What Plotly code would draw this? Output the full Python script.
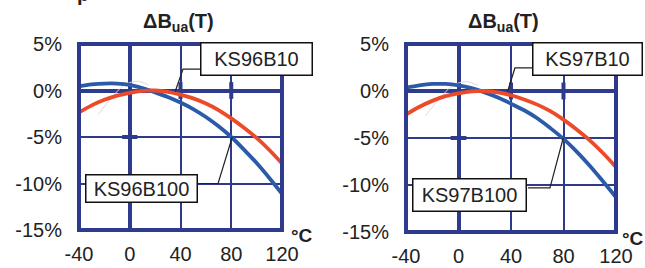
import plotly.graph_objects as go

# ---------------- data ----------------
temps = [-40, -30, -20, -10, 0, 10, 20, 30, 40, 50, 60, 70, 80, 90, 100, 110, 120]

ks96b100 = [0.45, 0.65, 0.75, 0.75, 0.6, 0.25, -0.2, -0.7, -1.3, -2.0, -2.85, -3.85, -5.0, -6.35, -7.8, -9.4, -11.1]
ks96b10 = [-2.35, -1.6, -1.0, -0.55, -0.25, -0.05, 0.0, -0.15, -0.45, -0.85, -1.4, -2.1, -3.0, -4.0, -5.1, -6.4, -7.85]

ks97b100 = [0.35, 0.6, 0.75, 0.75, 0.6, 0.3, -0.15, -0.7, -1.35, -2.05, -2.9, -3.95, -5.1, -6.45, -7.95, -9.6, -11.3]
ks97b10 = [-2.5, -1.7, -1.05, -0.55, -0.25, -0.05, 0.0, -0.15, -0.45, -0.9, -1.45, -2.15, -3.05, -4.1, -5.25, -6.6, -8.1]

# faint scan "ghost" traces visible behind the curves
ghost_t = [-25, -15, -5, 5, 15]
ghost_v = [-2.6, -0.9, 0.5, 1.0, 0.6]

x_ticks = [-40, 0, 40, 80, 120]
x_ticktext = ["-40", "0", "40", "80", "120"]
y_ticks = [5, 0, -5, -10, -15]
y_ticktext = ["5%", "0%", "-5%", "-10%", "-15%"]

title_text = "<b>ΔB<sub>ua</sub>(T)</b>"
unit_text = "<b>°C</b>"
labels_left = ["KS96B10", "KS96B100"]
labels_right = ["KS97B10", "KS97B100"]

# leader lines (x in °C, y in %)
lead_left_b10 = ([55.4, 42.0, 35.8], [2.3, 2.3, -0.1])
lead_left_b100 = ([53.0, 69.6, 80.8], [-10.0, -10.0, -5.0])
lead_right_b10 = ([56.0, 43.0, 37.5], [2.45, 2.45, 0.0])
lead_right_b100 = ([53.0, 69.7, 79.8], [-10.3, -10.3, -5.0])

# ---------------- style ----------------
W, H = 645, 268
NAVY = "#2e3a8c"
BLUE = "#2a5aa8"
RED = "#ec4b2a"
TXT = "#222222"
FONT = "Liberation Sans, Arial, sans-serif"

fig = go.Figure()

def px_x(p):
    return p / W

def px_y(p):
    return 1 - p / H

panels = [
    dict(xa="x", ya="y", xd=[79, 282], yd=[44, 230], blue=ks96b100, red=ks96b10,
         lb10=lead_left_b10, lb100=lead_left_b100, labels=labels_left,
         box10=(256, 58.5, 110, 31), box100=(141, 188.5, 110, 26),
         title_x=178, unit=(302, 235)),
    dict(xa="x2", ya="y2", xd=[406, 616], yd=[44, 232], blue=ks97b100, red=ks97b10,
         lb10=lead_right_b10, lb100=lead_right_b100, labels=labels_right,
         box10=(587, 58.5, 108, 31), box100=(469, 194.5, 112, 31),
         title_x=503, unit=(633, 238)),
]

for i, p in enumerate(panels):
    xa, ya = p["xa"], p["ya"]
    fig.add_trace(go.Scatter(x=ghost_t, y=ghost_v, mode="lines", xaxis=xa, yaxis=ya,
                             line=dict(color="#dadada", width=1, shape="spline"), showlegend=False,
                             hoverinfo="skip"))
    # curves
    fig.add_trace(go.Scatter(x=temps, y=p["blue"], mode="lines", xaxis=xa, yaxis=ya,
                             line=dict(color=BLUE, width=3.8, shape="spline"), showlegend=False,
                             hoverinfo="skip"))
    fig.add_trace(go.Scatter(x=temps, y=p["red"], mode="lines", xaxis=xa, yaxis=ya,
                             line=dict(color=RED, width=3.8, shape="spline"), showlegend=False,
                             hoverinfo="skip"))
    # leader lines
    for lx, ly in (p["lb10"], p["lb100"]):
        fig.add_trace(go.Scatter(x=lx, y=ly, mode="lines", xaxis=xa, yaxis=ya,
                                 line=dict(color="#222222", width=1.2), showlegend=False,
                                 hoverinfo="skip"))

    axn = "" if i == 0 else "2"
    xdom = "x" + axn + " domain"
    ydom = "y" + axn + " domain"
    # outer border
    fig.add_shape(type="rect", xref=xdom, yref=ydom, x0=0, x1=1, y0=0, y1=1,
                  line=dict(color=NAVY, width=4), layer="above")
    # small thick tick marks on grid
    for tx in (40, 80):
        fig.add_shape(type="line", xref=xa, yref=ya, x0=tx, x1=tx, y0=-0.9, y1=0.9,
                      line=dict(color=NAVY, width=4), layer="below")
    fig.add_shape(type="line", xref=xa, yref=ya, x0=-6, x1=6, y0=-5, y1=-5,
                  line=dict(color=NAVY, width=4), layer="below")

    # label boxes
    for (cx, cy, bw, bh), txt in zip((p["box10"], p["box100"]), p["labels"]):
        fig.add_annotation(xref="paper", yref="paper", x=px_x(cx), y=px_y(cy),
                           xanchor="center", yanchor="middle", text=txt, showarrow=False,
                           width=bw, height=bh, align="center", valign="middle",
                           bgcolor="white", bordercolor="#111111", borderwidth=1.5, borderpad=0,
                           font=dict(family=FONT, size=20, color=TXT))
    # title
    fig.add_annotation(xref="paper", yref="paper", x=px_x(p["title_x"]), y=px_y(23),
                       xanchor="center", yanchor="middle", text=title_text, showarrow=False,
                       font=dict(family=FONT, size=20, color=TXT))
    # unit
    fig.add_annotation(xref="paper", yref="paper", x=px_x(p["unit"][0]), y=px_y(p["unit"][1]),
                       xanchor="center", yanchor="middle", text=unit_text, showarrow=False,
                       font=dict(family=FONT, size=19, color=TXT))

    xkey = "xaxis" + axn
    ykey = "yaxis" + axn
    fig.update_layout(**{
        xkey: dict(domain=[px_x(p["xd"][0]), px_x(p["xd"][1])], range=[-40, 120],
                   tickmode="array", tickvals=x_ticks, ticktext=x_ticktext,
                   showgrid=True, gridcolor=NAVY, gridwidth=2,
                   zeroline=True, zerolinecolor=NAVY, zerolinewidth=3.5,
                   showline=False, ticks="", ticklabelstandoff=10, automargin=False,
                   tickfont=dict(family=FONT, size=20, color=TXT),
                   anchor="y" + axn, fixedrange=True),
        ykey: dict(domain=[px_y(p["yd"][1]), px_y(p["yd"][0])], range=[-15, 5],
                   tickmode="array", tickvals=y_ticks, ticktext=y_ticktext,
                   showgrid=True, gridcolor=NAVY, gridwidth=2,
                   zeroline=True, zerolinecolor=NAVY, zerolinewidth=3.5,
                   showline=False, ticks="", ticklabelstandoff=16, automargin=False,
                   tickfont=dict(family=FONT, size=20, color=TXT),
                   anchor="x" + axn, fixedrange=True),
    })

# partial glyph cut off at the top edge
fig.add_annotation(xref="paper", yref="paper", x=px_x(83), y=px_y(-6),
                   xanchor="center", yanchor="middle", text="<b>p</b>", showarrow=False,
                   font=dict(family=FONT, size=20, color=TXT))

fig.update_layout(template="none", width=W, height=H, margin=dict(l=0, r=0, t=0, b=0),
                  paper_bgcolor="white", plot_bgcolor="white", showlegend=False)

fig.write_html("out.html", config={"displayModeBar": False},
               post_script="document.body.style.margin='0';document.body.style.overflow='hidden';")
